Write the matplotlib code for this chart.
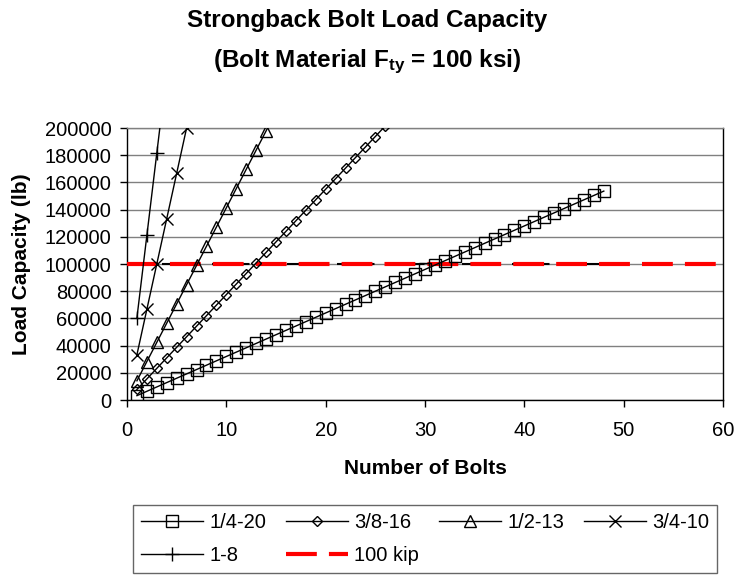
import matplotlib
matplotlib.use("Agg")
import matplotlib.pyplot as plt

plt.rcParams['font.family'] = ['Liberation Sans', 'DejaVu Sans']
plt.rcParams['mathtext.fontset'] = 'custom'
plt.rcParams['mathtext.rm'] = 'Liberation Sans:bold'
plt.rcParams['mathtext.bf'] = 'Liberation Sans:bold'

# Data (load capacity in lb vs number of bolts)
x_14_20 = list(range(1, 49))
y_14_20 = [3200, 6400, 9600, 12800, 16000, 19200, 22400, 25600, 28800, 32000,
           35200, 38400, 41600, 44800, 48000, 51200, 54400, 57600, 60800, 64000,
           67200, 70400, 73600, 76800, 80000, 83200, 86400, 89600, 92800, 96000,
           99200, 102400, 105600, 108800, 112000, 115200, 118400, 121600, 124800, 128000,
           131200, 134400, 137600, 140800, 144000, 147200, 150400, 153600]

x_38_16 = list(range(1, 28))
y_38_16 = [7750, 15500, 23250, 31000, 38750, 46500, 54250, 62000, 69750, 77500,
           85250, 93000, 100750, 108500, 116250, 124000, 131750, 139500, 147250, 155000,
           162750, 170500, 178250, 186000, 193750, 201500, 209250]

x_12_13 = list(range(1, 16))
y_12_13 = [14130, 28260, 42390, 56520, 70650, 84780, 98910, 113040, 127170, 141300,
           155430, 169560, 183690, 197820, 211950]

x_34_10 = [1, 2, 3, 4, 5, 6]
y_34_10 = [33330, 66670, 100000, 133330, 166670, 200000]

x_1_8 = [1, 2, 3, 4]
y_1_8 = [60500, 121000, 181500, 242000]

kip_x = [0, 60.3]
kip_y = [100000, 100000]
under_x = [1, 48]
under_y = [100000, 100000]

fig = plt.figure(figsize=(7.35, 5.75), dpi=100)
ax = fig.add_axes([127/735, 1 - 400/575, 596/735, 272/575])

ax.plot(under_x, under_y, color='black', linewidth=1.5, linestyle=(0, (6, 6)), zorder=2)
l6, = ax.plot(kip_x, kip_y, color='#ff0000', linewidth=3, linestyle=(0, (7.4, 2.9)),
              label='100 kip', zorder=3, clip_on=False)

mk = dict(color='black', linewidth=1, markerfacecolor='none', markeredgecolor='black',
          markeredgewidth=1, zorder=4)
l1, = ax.plot(x_14_20, y_14_20, marker='s', markersize=8, label='1/4-20', **mk)
l2, = ax.plot(x_38_16, y_38_16, marker='D', markersize=5, label='3/8-16', **mk)
l3, = ax.plot(x_12_13, y_12_13, marker='^', markersize=8, label='1/2-13', **mk)
l4, = ax.plot(x_34_10, y_34_10, marker='x', markersize=9, label='3/4-10', **mk)
l5, = ax.plot(x_1_8, y_1_8, marker='+', markersize=10, label='1-8', **mk)

ax.set_xlim(0, 60)
ax.set_ylim(0, 200000)
ax.set_xticks(range(0, 61, 10))
ax.set_yticks(range(0, 200001, 20000))
ax.tick_params(axis='both', labelsize=14.5, direction='out', length=5, width=1, color='black')
ax.tick_params(axis='y', pad=6)
ax.tick_params(axis='x', pad=10)
ax.grid(axis='y', color='#808080', linewidth=1)
ax.set_axisbelow(True)
for s in ax.spines.values():
    s.set_color('black')
    s.set_linewidth(1)
ax.spines['top'].set_color('#808080')

ax.set_xlabel('Number of Bolts', fontsize=15, fontweight='bold', labelpad=14)
ax.set_ylabel('Load Capacity (lb)', fontsize=15, fontweight='bold', labelpad=10)

fig.text(0.5, 1 - 21/575, 'Strongback Bolt Load Capacity', ha='center', va='center',
         fontsize=17.5, fontweight='bold')
fig.text(0.5, 1 - 62/575, r'(Bolt Material $\mathbf{F_{ty}}$ = 100 ksi)', ha='center',
         va='center', fontsize=17.5, fontweight='bold')

# order so that rows read: 1/4-20, 3/8-16, 1/2-13, 3/4-10 / 1-8, 100 kip
handles = [l1, l5, l2, l6, l3, l4]
labels = [h.get_label() for h in handles]
leg = fig.legend(handles, labels, ncol=4, loc='upper left',
                 bbox_to_anchor=(133/735, 1 - 505/575), fontsize=14.5,
                 frameon=True, fancybox=False, edgecolor='#404040',
                 handlelength=3.08, columnspacing=1.0, handletextpad=0.3,
                 borderpad=0.4, labelspacing=0.7, borderaxespad=0)
leg.get_frame().set_linewidth(1)

fig.savefig('out.png', dpi=100)
